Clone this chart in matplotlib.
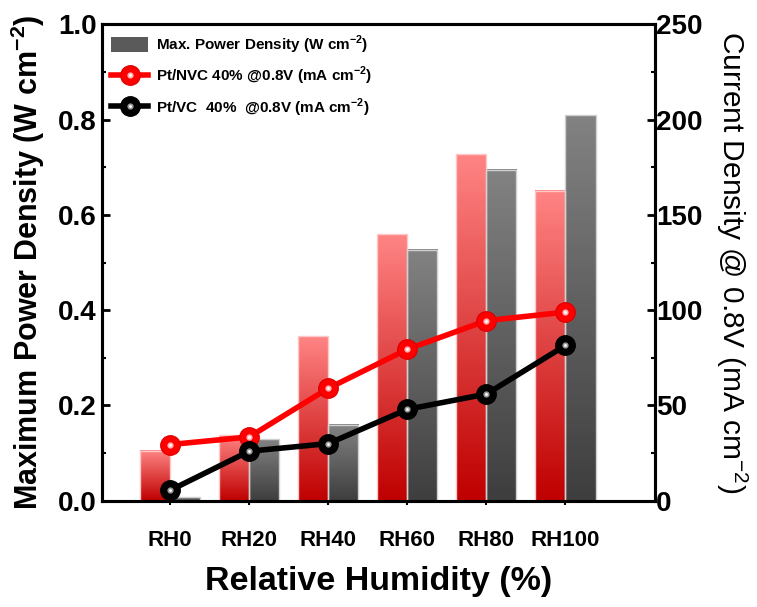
import numpy as np
import matplotlib.pyplot as plt
from matplotlib.patches import Patch
from matplotlib.colors import LinearSegmentedColormap

plt.rcParams['font.family'] = ['Liberation Sans', 'DejaVu Sans']
plt.rcParams['mathtext.fontset'] = 'custom'
plt.rcParams['mathtext.rm'] = 'Liberation Sans'
plt.rcParams['mathtext.bf'] = 'Liberation Sans:bold'

categories = ['RH0', 'RH20', 'RH40', 'RH60', 'RH80', 'RH100']
pmax_nvc = [0.105, 0.137, 0.345, 0.559, 0.727, 0.651]
pmax_vc = [0.008, 0.130, 0.160, 0.527, 0.695, 0.809]
cd_nvc = [29.5, 33.5, 59, 79.5, 94.5, 99]
cd_vc = [5.5, 26, 30, 48, 56, 81.5]

x = np.arange(len(categories))
w = 0.38

fig = plt.figure(figsize=(7.57, 6.07), dpi=100)
ax = fig.add_axes([0.135, 0.175, 0.73, 0.785])
ax2 = ax.twinx()

red_cm = LinearSegmentedColormap.from_list('r', ['#bf0000', '#ff8484'])
gray_cm = LinearSegmentedColormap.from_list('g', ['#3e3e3e', '#828282'])
grad = np.linspace(0, 1, 100).reshape(-1, 1)

b1 = ax.bar(x - w / 2, pmax_nvc, w, facecolor='none', edgecolor='#ffc8c8', lw=1, zorder=3)
b2 = ax.bar(x + w / 2, pmax_vc, w, facecolor='none', edgecolor='#d0d0d0', lw=1, zorder=3)
for bars, cm in ((b1, red_cm), (b2, gray_cm)):
    for p in bars:
        x0, y0 = p.get_x(), p.get_y()
        ax.imshow(grad, cmap=cm, origin='lower', aspect='auto', zorder=2,
                  extent=(x0, x0 + p.get_width(), y0, y0 + p.get_height()))

ax.set_xlim(-0.86, 6.13)
ax.set_ylim(0, 1.0)
ax2.set_ylim(0, 250)

# shaded "ball" markers: solid ball + soft glint + bright centre
l1, = ax2.plot(x, cd_nvc, '-o', color='red', mfc='red', mec='#e00000', lw=4, ms=14, zorder=5)
g1, = ax2.plot(x, cd_nvc, 'o', color='#ffb4b4', ms=4.5, mec='none', zorder=6)
h1, = ax2.plot(x, cd_nvc, 'o', color='white', ms=2, mec='none', zorder=7)
l2, = ax2.plot(x, cd_vc, '-o', color='black', mfc='black', mec='black', lw=4, ms=14, zorder=5)
g2, = ax2.plot(x, cd_vc, 'o', color='#9a9a9a', ms=4.5, mec='none', zorder=6)
h2, = ax2.plot(x, cd_vc, 'o', color='white', ms=2, mec='none', zorder=7)

ax.set_xticks(x)
ax.set_xticklabels(categories, fontsize=16, fontweight='bold')
ax.set_yticks(np.arange(0, 1.01, 0.2))
ax.set_yticks(np.arange(0.1, 1.0, 0.2), minor=True)
ax.set_yticklabels(['%.1f' % v for v in np.arange(0, 1.01, 0.2)], fontsize=20, fontweight='bold')
ax2.set_yticks(np.arange(0, 251, 50))
ax2.set_yticks(np.arange(25, 250, 50), minor=True)
ax2.set_yticklabels([str(v) for v in range(0, 251, 50)], fontsize=20, fontweight='bold')

ax.tick_params(axis='y', direction='in', length=6, width=2, pad=4)
ax.tick_params(axis='y', which='minor', direction='in', length=3, width=1.5)
ax.tick_params(axis='x', direction='out', length=3, width=1.5, pad=18)
ax2.tick_params(axis='y', direction='in', length=6, width=2, pad=1)
ax2.tick_params(axis='y', which='minor', direction='in', length=3, width=1.5)
for a in (ax, ax2):
    for s in a.spines.values():
        s.set_linewidth(2.2)

ax.set_xlabel('Relative Humidity (%)', fontsize=24.5, fontweight='bold', labelpad=11)
ax.set_ylabel(r'Maximum Power Density (W cm$^{\mathbf{-2}}$)', fontsize=22, fontweight='bold', labelpad=8)
ax2.set_ylabel(r'Current Density @ 0.8V (mA cm$^{-2}$)', fontsize=21.5, rotation=270, labelpad=34)

handles = [Patch(facecolor='#5a5a5a'), (l1, g1, h1), (l2, g2, h2)]
labels = [r'Max. Power Density (W cm$^{\mathbf{-2}}$)',
          r'Pt/NVC 40% @0.8V (mA cm$^{\mathbf{-2}}$)',
          r'Pt/VC  40%  @0.8V (mA cm$^{\mathbf{-2}}$)']
ax2.legend(handles, labels, loc='upper left', frameon=False, prop={'weight': 'bold', 'size': 11},
           borderaxespad=0.2, handlelength=2.4, handleheight=1.2, handletextpad=0.5, labelspacing=0.6)

plt.savefig('out.png', dpi=100)
